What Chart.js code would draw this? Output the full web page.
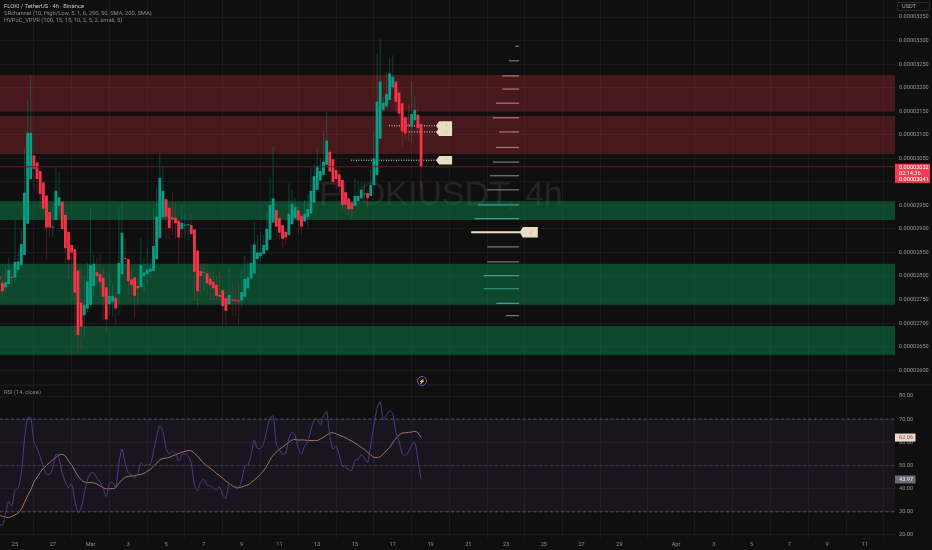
<!DOCTYPE html>
<html><head><meta charset="utf-8">
<script src="https://cdn.jsdelivr.net/npm/chart.js@4"></script>
<style>
html,body{margin:0;padding:0;background:#0f0f0f;overflow:hidden}
#wrap{position:relative;width:932px;height:550px;font-family:Roboto,sans-serif}
#wm{position:absolute;left:319px;top:175px;font:34px/36px "Liberation Sans",sans-serif;color:#242424;white-space:nowrap}
canvas{position:absolute;left:0;top:0}
.t{position:absolute;left:4px;font-size:5.8px;line-height:7px;color:#8a8a8a;white-space:nowrap}
#usdt{position:absolute;left:897px;top:2px;width:33px;height:9px;border:1px solid #2a2a2a;border-radius:2px;box-sizing:border-box;color:#a8a8a8;font-size:5.6px;line-height:7px;padding-left:4px}
#bolt{position:absolute;left:417px;top:376px;width:8px;height:8px;border:1px solid #7a4fb0;border-radius:50%;color:#e8c8e8;font-size:5px;line-height:8px;text-align:center}
</style></head><body>
<div id="wrap">
<div id="wm">FLOKIUSDT, 4h</div>
<canvas id="c" width="932" height="550"></canvas>
<div class="t" style="top:3px;color:#c8c8c8">FLOKI / TetherUS · 4h · Binance</div>
<div class="t" style="top:10px">SRchannel (10, High/Low, 5, 1, 6, 290, 50, SMA, 200, SMA)</div>
<div class="t" style="top:17px">HVPoC_VPVR (100, 15, 15, 10, 2, 5, 2, small, 5)</div>
<div class="t" style="top:389px">RSI (14, close)</div>
<div id="usdt">USDT</div>
<div id="bolt">⚡</div>
</div>
<script>
// first candle index; one index step is one 4h bar, 0 = 25 Feb 00:00
const firstBar = -5;
const opens = [2799,2786,2776,2783,2798,2797,2813,2823,2845,2911,3006,3056,3041,3023,2999,2971,2936,2903,2919,2949,2958,2930,2894,2866,2857,2812,2744,2717,2731,2739,2779,2808,2804,2797,2776,
2741,2746,2754,2762,2804,2838,2836,2793,2797,2779,2777,2800,2804,2809,2811,2836,2881,2925,2963,2945,2925,2924,2918,2900,2907,2908,2908,2899,2854,2811,2807,2806,
2795,2788,2781,2760,2770,2753,2740,2749,2748,2748,2748,2756,2774,2795,2806,2836,2843,2847,2855,2877,2914,2940,2923,2908,2894,2887,2910,2923,2940,2928,2916,2925,2933,2956,2983,
3003,3015,3036,3064,3048,3025,3016,3004,2978,2965,2956,2949,2959,2965,2973,2976,2970,2993,3015,3092,3153,3160,3174,3201,3213,3190,3167,3137,3122,3117,3131,3142,3123];
const highs = [2807,2806,2820,2838,2814,2919,2850,2899,3073,3174,3227,3056,3041,3023,2999,2971,2936,2949,3031,3021,2958,2930,2894,2866,2857,2812,2813,2800,2828,2944,2845,2839,2847,2819,2776,
2804,2785,2768,2947,2958,2879,2836,2813,2797,2797,2880,2838,2859,2836,2944,2988,3061,3034,2963,2945,2979,2958,2918,2951,2930,2923,2929,2899,2854,2827,2827,2829,
2807,2809,2799,2808,2770,2753,2818,2783,2777,2783,2816,2843,2831,2866,2915,2887,2894,2887,2937,3009,3076,2940,2923,2908,2894,2997,2984,2965,2949,2928,2962,2973,3031,3039,3071,
3050,3108,3150,3070,3048,3032,3032,3004,2978,2965,2956,3007,3000,3000,3000,2986,3025,3107,3271,3305,3181,3234,3264,3269,3213,3190,3167,3137,3165,3213,3181,3161,3123];
const lows = [2777,2753,2767,2777,2776,2785,2806,2820,2844,2911,3004,2984,2977,2942,2940,2836,2882,2884,2919,2932,2899,2827,2795,2834,2671,2635,2643,2670,2724,2735,2756,2777,2756,2705,2684,
2719,2714,2696,2717,2802,2820,2760,2760,2712,2734,2774,2767,2781,2795,2811,2834,2880,2925,2878,2878,2887,2880,2826,2880,2880,2877,2889,2747,2733,2760,2767,2760,
2749,2749,2748,2747,2697,2694,2739,2715,2714,2696,2735,2754,2773,2795,2804,2823,2831,2845,2855,2877,2913,2880,2875,2859,2865,2885,2910,2923,2889,2885,2913,2903,2932,2956,2983,
3000,3015,3034,3020,2993,2986,2972,2940,2933,2930,2921,2947,2958,2964,2965,2947,2969,2992,3015,3091,3150,3158,3172,3199,3148,3135,3075,3092,3085,3082,3129,3103,2983];
const closes = [2792,2768,2787,2813,2796,2830,2831,2868,2977,3104,3104,3028,3006,2974,2943,2903,2903,2905,2981,2967,2900,2859,2835,2850,2765,2675,2693,2739,2788,2823,2826,2800,2787,2756,2708,
2758,2758,2731,2828,2892,2836,2789,2781,2758,2774,2823,2808,2814,2816,2864,2926,3008,2981,2926,2902,2920,2912,2882,2913,2908,2909,2889,2809,2768,2800,2809,2785,
2781,2774,2758,2756,2736,2726,2760,2748,2747,2746,2766,2794,2797,2828,2867,2850,2850,2866,2900,2951,2965,2905,2892,2879,2882,2932,2953,2947,2918,2905,2932,2942,2981,3012,3034,
3023,3043,3088,3022,3000,3006,2990,2951,2952,2942,2942,2970,2970,2983,2975,2965,2993,3050,3170,3213,3168,3186,3230,3223,3170,3145,3107,3103,3119,3144,3153,3114,3032];
const rsiValues = [24.7,24.1,29.4,34.4,32.5,39.4,40.2,46.6,61.0,70.6,70.6,60.2,57.4,53.8,49.5,46.2,46.2,48.8,55.0,53.1,46.6,43.0,40.4,42.0,35.1,29.7,31.6,38.0,43.7,46.6,46.9,44.5,43.0,40.2,36.6,42.3,42.6,40.6,50.9,57.0,50.9,46.9,46.2,44.5,46.6,51.2,49.8,50.6,50.5,56.0,62.4,67.3,64.5,57.4,55.0,56.4,55.2,51.9,54.5,55.0,54.1,50.9,41.6,39.0,43.0,44.0,41.6,41.3,40.2,39.4,40.9,37.3,35.9,42.3,41.2,40.4,40.2,43.7,49.5,50.2,54.5,61.0,57.4,57.4,59.5,65.3,70.6,71.4,59.5,56.7,55.0,55.2,61.7,64.3,63.1,
57.4,55.0,58.4,60.2,65.3,69.3,70.0,67.7,71.3,73.4,63.1,57.1,58.4,54.5,49.5,49.8,48.0,48.0,52.4,52.6,54.6,53.1,51.3,58.8,67.4,74.6,77.5,69.9,71.7,73.6,72.4,64.3,60.7,55.0,54.2,56.0,58.8,60.0,52.4,43.97];
const rsiMaValues = [28.4,28.1,27.7,27.5,28.0,28.7,29.5,31.1,34.0,36.9,39.4,42.8,44.8,47.0,48.8,50.1,51.3,52.5,53.5,54.6,54.8,54.1,51.9,50.1,47.8,45.5,43.9,42.9,42.6,42.6,42.5,42.0,41.2,40.4,40.0,40.0,40.0,40.4,42.3,43.7,44.9,45.3,45.5,45.6,45.9,46.2,46.6,47.5,48.3,49.8,50.9,52.4,53.0,53.2,53.5,54.1,54.6,55.2,55.7,56.1,56.4,56.4,55.2,54.1,52.4,50.9,49.9,48.8,47.8,46.6,45.6,44.5,43.3,42.2,41.3,40.7,40.4,40.7,41.2,41.6,42.6,43.7,44.9,46.2,47.8,49.8,52.4,54.4,55.8,57.0,58.0,59.0,60.0,61.0,61.2,61.0,
61.0,61.0,60.8,60.8,60.8,60.8,61.4,62.2,63.1,64.0,64.1,63.7,63.1,62.5,62.0,61.2,60.5,59.7,58.8,57.8,57.0,55.7,54.6,53.5,53.4,53.8,55.0,56.4,57.8,59.8,61.7,63.1,64.0,64.1,64.3,64.4,64.8,64.1,62.06];
const resistanceZones = [[3150,3227],[3059,3140]];
const supportZones = [[2919,2959],[2739,2826],[2632,2694]];
const rsiBand = [30,70];
const rsiGuides = [70,50,30];
const vpPrices = [3288,3257,3225,3197,3167,3136,3106,3073,3042,3013,2983,2951,2922,2893,2862,2830,2801,2773,2742,2716];
const vpVolumes = [1.2,3.2,5.3,5.3,7.3,8.3,6.3,7.3,8.3,9.2,10.1,13,14.2,15.2,10.1,10.1,11.2,11.2,7.2,4.2];
const vpPocPrice = 2893;
const hvLevels = [3119,3106,3046];
const hvStartBars = [118.8,125.2,106.7];
const priceTicks = [3350,3300,3250,3200,3150,3100,3050,3000,2950,2900,2850,2800,2750,2700,2650,2600];
const rsiTicks = [80,70,60,50,40,30,20];
const xTickBars = [0,12,24,36,48,60,72,84,96,108,120,132,144,156,168,180,192,210,222,234,246,258,270];
const xTickLabels = ['25','27','Mar','3','5','7','9','11','13','15','17','19','21','23','25','27','29','Apr','3','5','7','9','11'];

const XMIN=-4.765, XMAX=279.55, VP_END=160.1, TAG_BAR=134.4, POC_TAG_BAR=161;
const barIdx = i => firstBar+i;
const up='#0a9e85', dn='#f7344a', upW='rgba(10,158,133,.36)', dnW='rgba(247,52,74,.28)';
const isUp = closes.map((c,i)=>c>=opens[i]);
const inZone=(p,zs)=>zs.some(z=>p>=z[0]&&p<=z[1]);
const vpColor=p=>p===vpPocPrice?'#efe2c3':inZone(p,resistanceZones)?'#b57479':inZone(p,supportZones)?'#3f9f8c':'#7d7d7d';
const flat=(y,a,b,opt,axis)=>Object.assign({type:'line',yAxisID:axis||'y',xAxisID:'x',data:[{x:a,y},{x:b,y}],pointRadius:0,borderWidth:1,fill:false,tension:0},opt);

const datasets=[
 flat(closes[closes.length-1],XMIN,XMAX,{borderColor:'#5c1f26'}),
 {type:'bar',yAxisID:'y',grouped:false,barThickness:1,borderWidth:0,inflateAmount:0,
  data:lows.map((l,i)=>({x:barIdx(i),y:[l,highs[i]]})),backgroundColor:isUp.map(u=>u?upW:dnW)},
 {type:'bar',yAxisID:'y',grouped:false,barThickness:2.8,borderWidth:0,inflateAmount:0,minBarLength:1,
  data:opens.map((o,i)=>({x:barIdx(i),y:[o,closes[i]]})),backgroundColor:isUp.map(u=>u?up:dn)},
];
vpPrices.forEach((p,i)=>datasets.push(flat(p,VP_END-vpVolumes[i],p===vpPocPrice?POC_TAG_BAR:VP_END,{borderColor:vpColor(p),borderWidth:p===vpPocPrice?2:1.2})));
hvLevels.forEach((p,i)=>datasets.push(flat(p,hvStartBars[i],TAG_BAR,{borderColor:'#dcdcdc',borderDash:[1,1.5]})));
rsiGuides.forEach(v=>datasets.push(flat(v,XMIN,XMAX,{borderColor:v===50?'#3f3b46':'#57525e',borderDash:[3,2.5]},'y2')));
datasets.push({type:'line',yAxisID:'y2',xAxisID:'x',data:rsiValues.map((v,i)=>({x:barIdx(i),y:v})),borderColor:'#4d3f85',borderWidth:1,pointRadius:0,tension:.25});
datasets.push({type:'line',yAxisID:'y2',xAxisID:'x',data:rsiMaValues.map((v,i)=>({x:barIdx(i),y:v})),borderColor:'#a9755a',borderWidth:1,pointRadius:0,tension:.3});

const bands={id:'bands',beforeDatasetsDraw(ch){
  const {ctx,chartArea:a,scales:{y,y2}}=ch;ctx.save();
  const band=(s,z,col)=>{const t=s.getPixelForValue(z[1]),b=s.getPixelForValue(z[0]);ctx.fillStyle=col;ctx.fillRect(a.left,t,a.right-a.left,b-t);};
  resistanceZones.forEach(z=>band(y,z,'rgba(242,54,69,.25)'));
  supportZones.forEach(z=>band(y,z,'rgba(10,157,87,.4)'));
  band(y2,rsiBand,'rgba(126,87,194,.09)');
  ctx.fillStyle='#222';ctx.fillRect(0,y2.top-.5,932,1);
  ctx.restore();
}};
const tags={id:'tags',afterDraw(ch){
  const {ctx,scales:{x,y,y2}}=ch;ctx.save();
  const tag=(bar,p,w,h,txt)=>{const X=x.getPixelForValue(bar),Y=y.getPixelForValue(p);
    ctx.fillStyle='#e8dcc2';ctx.beginPath();ctx.moveTo(X-2,Y);ctx.lineTo(X+1,Y-h/2);ctx.lineTo(X+w,Y-h/2);ctx.lineTo(X+w,Y+h/2);ctx.lineTo(X+1,Y+h/2);ctx.closePath();ctx.fill();
    ctx.fillStyle='#6b6050';ctx.font='5px Roboto';ctx.textAlign='center';ctx.textBaseline='middle';ctx.fillText(txt,X+w/2+1,Y);};
  tag(TAG_BAR,hvLevels[0],14,9,'·:');
  tag(TAG_BAR,hvLevels[1],14,8,':');
  tag(TAG_BAR,hvLevels[2],14,8.5,'·');
  tag(POC_TAG_BAR,vpPocPrice,16,10.5,'·:');
  // last price box
  const last=closes[closes.length-1],py=y.getPixelForValue(last);
  ctx.fillStyle='#f23c52';ctx.fillRect(895,py-3,35,19);
  ctx.fillStyle='#fff';ctx.font='5.6px Roboto';ctx.textAlign='left';ctx.textBaseline='middle';
  ctx.fillText((last/1e8).toFixed(8),899,py+.5);ctx.fillText('02:14:36',899,py+6.5);ctx.fillText('0.00003041',899,py+12.5);
  // RSI value boxes
  const rb=(v,bg,fg)=>{const Y=y2.getPixelForValue(v);ctx.fillStyle=bg;ctx.fillRect(895,Y-4,20.5,8);ctx.fillStyle=fg;ctx.fillText(v.toFixed(2),899,Y+.3);};
  rb(rsiMaValues[rsiMaValues.length-1],'#eadcc8','#9a4a55');
  rb(rsiValues[rsiValues.length-1],'#6f6c78','#ece9f0');
  ctx.restore();
}};

const gridCol='#1a1a1a', font={family:'Roboto',size:5.6};
const fitY=s=>{s.width=37;s.paddingTop=0;s.paddingBottom=0;};
new Chart(document.getElementById('c'),{
 data:{datasets},
 plugins:[bands,tags],
 options:{responsive:false,animation:false,events:[],devicePixelRatio:1,
  layout:{padding:0},
  plugins:{legend:{display:false},tooltip:{enabled:false},title:{display:false}},
  scales:{
   x:{type:'linear',position:'bottom',min:XMIN,max:XMAX,offset:false,
      afterFit(s){s.height=12;s.paddingLeft=0;s.paddingRight=0;},
      afterBuildTicks(s){s.ticks=xTickBars.map(v=>({value:v}));},
      grid:{color:gridCol,drawTicks:false,lineWidth:1},border:{display:false},
      ticks:{autoSkip:false,maxRotation:0,minRotation:0,padding:3,color:'#8e8e8e',font,
        callback:v=>xTickLabels[xTickBars.indexOf(v)]}},
   y:{type:'linear',position:'right',stack:'panes',stackWeight:385,weight:1,min:2568.7,max:3386.1,
      afterFit:fitY,
      afterBuildTicks(s){s.ticks=priceTicks.map(v=>({value:v}));},
      grid:{color:gridCol,drawTicks:false},border:{display:false},
      ticks:{autoSkip:false,padding:4,color:'#959595',font,callback:v=>(v/1e8).toFixed(8)}},
   y2:{type:'linear',position:'right',stack:'panes',stackWeight:153,weight:2,min:18.7,max:84.75,
      afterFit:fitY,
      afterBuildTicks(s){s.ticks=rsiTicks.map(v=>({value:v}));},
      grid:{color:gridCol,drawTicks:false},border:{display:false},
      ticks:{autoSkip:false,padding:4,color:'#959595',font,callback:v=>v.toFixed(2)}}
  }}
});
</script>
</body></html>
